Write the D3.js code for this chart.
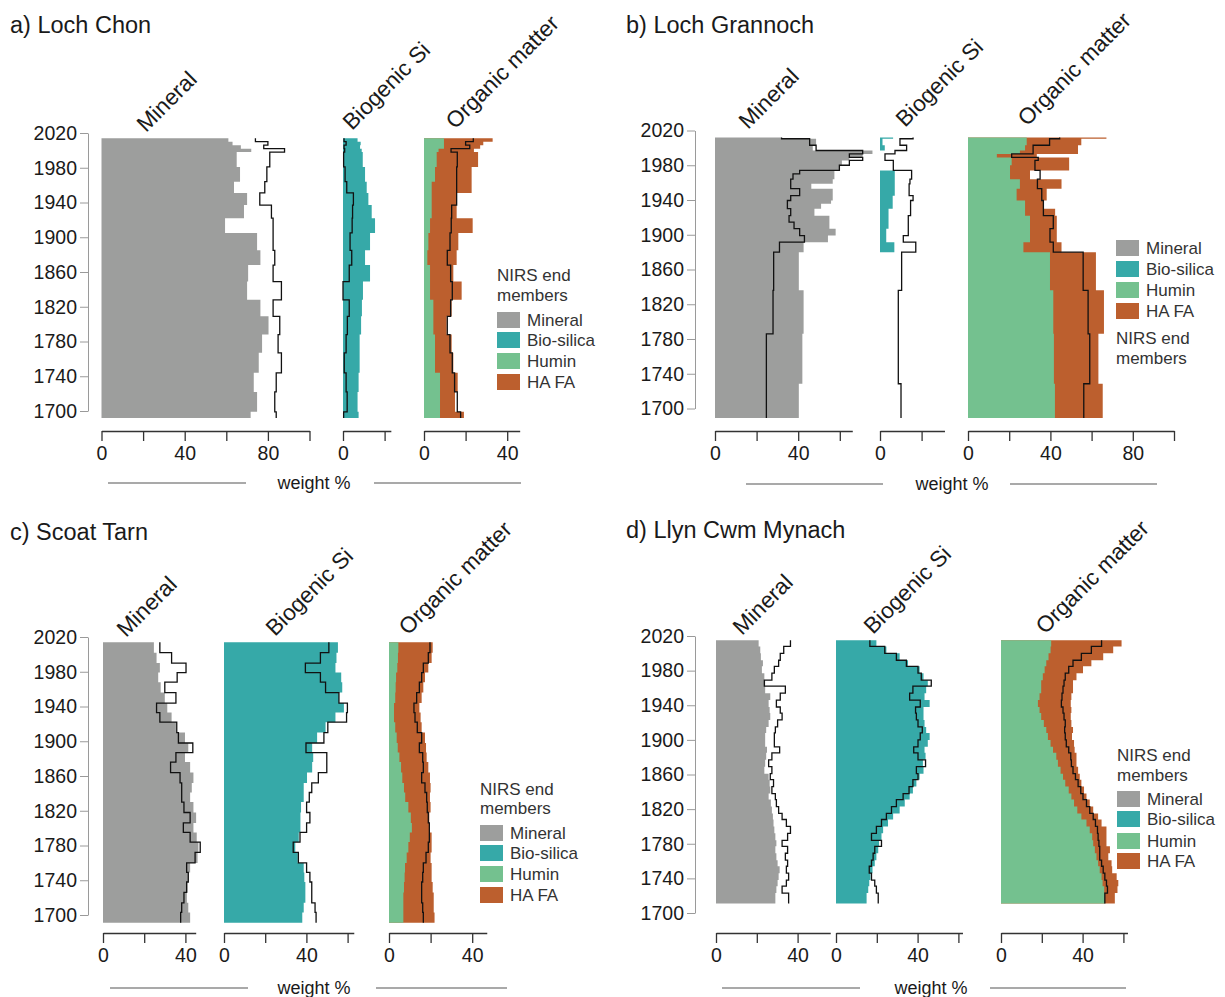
<!DOCTYPE html>
<html>
<head>
<meta charset="utf-8">
<script src="https://cdn.jsdelivr.net/npm/d3@7"></script>
<style>
  body { margin: 0; background: #fff; }
  text { font-family: "Liberation Sans", Arial, Helvetica, sans-serif; }
</style>
</head>
<body>
<svg id="chart" width="1225" height="997"></svg>
<script>
// ---- Loch Chon ----
const chonYears = [2014, 2010, 2006, 2002, 1998, 1981, 1964, 1951, 1937, 1922, 1905, 1885, 1868, 1849, 1828, 1809, 1788, 1767, 1744, 1722, 1699, 1692];
const chonMineral = [61, 63, 67, 72, 65, 66.6, 63.7, 70, 68.5, 59.4, 74.8, 76.4, 70.5, 70, 76.4, 80.3, 77.2, 75.6, 73.2, 74.8, 71.7];
const chonMineralLine = [74, 80, 78, 88, 80.9, 79.5, 78.5, 76.1, 81.7, 82.5, 82.5, 83.3, 82.5, 86.5, 82.5, 85.7, 84.9, 86.5, 84, 83.3, 84];
const chonBioSi = [7, 8.5, 8.2, 9, 9.5, 10.6, 11.4, 12.2, 13.8, 15.4, 13, 10.6, 13, 9.6, 9.1, 8.7, 8, 8, 7.5, 7, 7.5];
const chonBioSiLine = [0.5, 1.5, 0.5, 0.8, 0.3, 1, 1.8, 5, 4.6, 4.4, 3.4, 4.2, 3, 0, 3, 2.1, 1.5, 0.6, 1.5, 2, 0.3];
const chonHumin = [9.6, 9.6, 9.6, 7, 6.1, 5.3, 3.7, 3.7, 3.7, 2.9, 2.1, 1.6, 2.9, 2.9, 4.5, 4.5, 5.3, 5.3, 7.7, 7.7, 7.7];
const chonHaFa = [23.4, 18.9, 17.4, 17, 19.9, 17.6, 19.2, 12, 12, 20.5, 14.4, 14.1, 11.2, 15.2, 8.8, 6.4, 8, 8.8, 8.5, 7.2, 11.5];
const chonOrganicLine = [23.7, 20, 22, 13, 16, 15.7, 15.7, 15.7, 13.3, 13.1, 12.5, 11.2, 12.8, 13.6, 12.8, 11.2, 12.5, 13.6, 14.7, 16, 17.6];

// ---- Loch Grannoch ----
const grannochYears = [2012, 2010.5, 2003, 1997, 1993, 1989, 1985.5, 1980, 1974, 1970, 1964, 1958.6, 1953, 1945, 1939.4, 1935.6, 1930, 1922, 1914.5, 1907, 1899, 1891.5, 1880, 1836, 1786, 1728.5, 1689];
const grannochMineral = [32, 48.6, 47, 75.7, 71, 64.6, 61, 59.8, 57.4, 57.4, 56.6, 46.3, 56.6, 56.6, 55.8, 51, 47.8, 55, 55, 58, 54.3, 42.6, 40.3, 42.6, 42, 40.3];
const grannochMineralLine = [32, 45.5, 48.6, 71, 64.6, 71, 64.6, 59.8, 40.7, 37.5, 36.4, 36.4, 40.7, 36.4, 34.8, 34.8, 36.4, 35.6, 38, 40.7, 43, 31, 28.2, 27.9, 24.7, 24.7];
const grannochBioSi = [6.3, 1.2, 2.3, 0, 0, 0, 0, 0, 7.1, 7.1, 7.1, 7.1, 7.1, 6.1, 6.1, 6.1, 4.1, 4.1, 4.1, 3, 3, 6.9, 0, 0, 0, 0];
const grannochBioSiLine = [15.9, 9.6, 12.8, 7.2, 2.4, 2.4, 6.4, 6.4, 15.2, 15.2, 14.4, 14, 14, 15.9, 14.7, 14.7, 14.7, 13.6, 13.6, 13.6, 11.2, 17.2, 10.4, 8.8, 8.8, 10.1];
const grannochHumin = [28.5, 28.5, 27.7, 25.2, 14, 21.2, 21.2, 20.4, 20.4, 20.4, 25.2, 25.2, 23.6, 23.6, 27.7, 27.7, 27.7, 30.1, 30.1, 30.1, 30.1, 26.9, 39.8, 41.4, 41.7, 42.2];
const grannochHaFa = [38.7, 26.5, 25.7, 28.2, 19.4, 27.9, 27.9, 28.7, 9.7, 9.7, 20.2, 20.2, 14.6, 14.6, 8.9, 8.9, 14.6, 13, 13, 13, 13, 18.5, 22.3, 24.6, 21.6, 23.2];
const grannochOrganicLine = [44.5, 39.6, 31.6, 31.6, 21.2, 34.1, 32.5, 32.5, 35, 35, 33.7, 33.7, 35.8, 35.8, 36.6, 36.6, 36.6, 41.4, 41.4, 39.8, 39.8, 41.4, 55.9, 58.3, 59.1, 56.2];

// ---- Scoat Tarn ----
const scoatYears = [2014, 2002, 1990, 1979, 1968, 1956, 1944, 1933, 1922, 1910, 1898, 1887, 1876, 1864, 1852, 1841, 1830, 1818, 1806, 1795, 1784, 1772, 1760, 1749, 1738, 1726, 1714, 1703, 1691];
const scoatMineral = [24.7, 26, 27.6, 26.8, 28, 30, 31.2, 33.3, 35.4, 39.8, 41.4, 39.8, 42.3, 43.9, 43.1, 42.3, 43.9, 45.2, 43.9, 45.5, 46.3, 45.9, 42.3, 41.4, 41, 40.7, 41.4, 42.3];
const scoatMineralLine = [27.6, 33.3, 40.3, 36, 30, 35.4, 26, 27.6, 35.8, 36.6, 43.6, 35.4, 32.8, 37.4, 38.2, 38.2, 39.3, 42.3, 39, 42.3, 47.2, 44.7, 40.6, 41.4, 40.6, 39.3, 38.2, 37.7];
const scoatBioSi = [55.3, 54.6, 54.1, 56.9, 57.4, 55.8, 58.2, 54.1, 49.3, 45.2, 42.8, 43.3, 42.8, 40.3, 38.7, 38.7, 37.4, 37.1, 37.1, 36.3, 34.6, 35.8, 38.7, 39, 39.5, 39.5, 38.7, 38];
const scoatBioSiLine = [50.9, 46.8, 39.5, 46.8, 49.3, 55.8, 59.9, 59.5, 50.4, 48.5, 39.8, 49.9, 49.9, 45.8, 42.6, 41.4, 40.1, 41.7, 40.1, 36.9, 33.6, 36.1, 40.1, 41.7, 42.6, 42.6, 44.2, 44.7];
const scoatHumin = [4.5, 4.3, 4, 3.4, 3.2, 3, 2.4, 2.4, 3, 3.7, 4.2, 5, 5.8, 6.4, 7.2, 7.8, 9.3, 10.5, 11, 10, 9.3, 8.5, 7.7, 7.5, 7.2, 6.9, 6.9, 6.9];
const scoatHaFa = [16.5, 16.2, 14.9, 13.9, 13.3, 12.7, 12.2, 12.8, 12.7, 13.6, 13.6, 13.1, 13.1, 13.3, 12.8, 11.9, 10.7, 8.9, 8.7, 10.5, 11.2, 11.5, 12.8, 13, 13.8, 14.6, 14.6, 15];
const scoatOrganicLine = [19.7, 18.9, 16.5, 15.7, 14.6, 13.3, 12, 12.5, 13.6, 15.7, 14.6, 16.2, 16.5, 15.7, 17.3, 18.1, 18.4, 18.9, 19.4, 19.4, 18.9, 17.8, 16.5, 16.2, 15.7, 15.7, 16.2, 16.5];

// ---- Llyn Cwm Mynach ----
const mynachYears = [2015, 2008, 2000, 1992, 1985, 1977, 1969, 1962, 1954, 1946, 1938, 1931, 1923, 1915, 1908, 1900, 1892, 1885, 1877, 1869, 1861, 1854, 1846, 1838, 1831, 1823, 1815, 1808, 1800, 1792, 1784, 1777, 1769, 1761, 1754, 1746, 1738, 1731, 1723, 1711];
const mynachMineral = [20.9, 21.7, 22, 23, 22.5, 23.7, 24.1, 24.1, 26.6, 25.8, 26.3, 26.6, 25.8, 24.6, 24.1, 24.1, 25, 24.6, 24.1, 23.7, 25.8, 26.3, 26.6, 25.8, 26.9, 27.4, 27.9, 28.2, 28.6, 29.1, 29.6, 29.1, 29.6, 30.2, 31.2, 30.7, 30.2, 29.6, 29.1];
const mynachMineralLine = [36.5, 33.2, 31.5, 30.7, 28.6, 27.4, 23.7, 34, 31.5, 29.6, 31.5, 32.4, 30.2, 29.1, 28.6, 28.6, 31.2, 27.4, 25.8, 27.4, 26.6, 28.2, 27.4, 29.1, 29.6, 30.7, 32.4, 34.5, 36.5, 35.1, 32.4, 35.1, 34, 35.1, 34.5, 35.6, 34.5, 32.4, 35.6];
const mynachBioSi = [19.8, 24.7, 31.2, 35.3, 41, 42.9, 45, 44.2, 43.4, 45.9, 42.9, 42.9, 43.4, 44.2, 45.9, 45, 43.4, 43.9, 42.6, 42.9, 41, 39.4, 37.7, 36.1, 33.7, 31.2, 28, 25.5, 23.1, 22.3, 21.1, 20.7, 19.8, 19, 17.9, 16.9, 16.3, 15.8, 15];
const mynachBioSiLine = [16.6, 23.9, 29.6, 34.5, 40.2, 41.8, 46.7, 37.7, 36.1, 41.3, 39, 39.4, 40.2, 42.3, 41.3, 40.2, 38.1, 40.2, 43.9, 39.4, 40.2, 37.7, 35.8, 32.9, 29.6, 27.2, 24.7, 22.3, 19.8, 17.4, 22.3, 19, 18.2, 17.4, 16.3, 17.4, 19, 19.8, 20.7];
const mynachHumin = [24.6, 24.3, 23.3, 22.2, 21.4, 20.5, 19.7, 19.7, 18.9, 18.1, 18.9, 19.7, 21, 22.2, 23, 24.3, 25.5, 27.1, 27.9, 29.2, 30.4, 31.5, 33.2, 34.5, 35.8, 37.4, 39.4, 41.9, 43.5, 44.7, 45.2, 46, 46.8, 47.6, 48.4, 49.3, 49.8, 50.6, 50.9];
const mynachHaFa = [34.5, 30.7, 26.8, 22.1, 18.8, 16.5, 15.6, 15.6, 15.6, 16.1, 15.6, 14.5, 13.5, 13.1, 11.8, 11.5, 10.6, 9.9, 9.1, 8.6, 8.2, 7.9, 7.5, 7.4, 7.7, 7.8, 8.2, 7.4, 8.2, 7, 6.5, 7.4, 5.8, 6.6, 6.1, 7.4, 7.7, 6.5, 4.9];
const mynachOrganicLine = [49.3, 44.3, 39.4, 35.3, 33.2, 31.5, 30.9, 30.4, 29.9, 29.6, 30.4, 30.9, 31.5, 31.2, 31.5, 32, 33.2, 34.2, 34.5, 35.3, 36.5, 37.8, 39.1, 40.2, 41.9, 43.5, 45.2, 46.3, 47.3, 47.6, 48, 48.4, 48.4, 49.3, 50.1, 50.9, 51.7, 52.2, 50.9];

// ---- shared labels and ticks ----
const proxyNames = ["Mineral", "Biogenic Si", "Organic matter"];
const endMembers = ["Mineral", "Bio-silica", "Humin", "HA FA"];
const yearTicks = [1700, 1720, 1740, 1760, 1780, 1800, 1820, 1840, 1860, 1880, 1900, 1920, 1940, 1960, 1980, 2000, 2020];
const yearLabels = [1700, 1740, 1780, 1820, 1860, 1900, 1940, 1980, 2020];
const weightTicks = [0, 20, 40, 60, 80, 100];
const weightLabels = [0, 40, 80];
const axisTitle = "weight %";
const legendTitle = ["NIRS end", "members"];

const COLORS = { mineral: "#9d9e9d", bioSi: "#36a9a8", humin: "#74c18f", haFa: "#bc5f2e" };
const memberColors = [COLORS.mineral, COLORS.bioSi, COLORS.humin, COLORS.haFa];

const sites = [
  { title: "a) Loch Chon", years: chonYears, mineral: chonMineral, mineralLine: chonMineralLine,
    bioSi: chonBioSi, bioSiLine: chonBioSiLine, humin: chonHumin, haFa: chonHaFa, organicLine: chonOrganicLine,
    layout: { titleX: 10, titleY: 33, yRange: [411, 133], yAxisX: 88, axisY: 431, weightY: 483, weightX: 314,
      weightLines: [[108, 246], [374, 521]],
      cols: [{ x0: 101.5, k: 2.08, max: 100 }, { x0: 343, k: 2.08, max: 23 }, { x0: 424, k: 2.08, max: 46 }],
      heads: [[146, 133], [352, 131], [455, 130]],
      legend: { x: 497, titleY: [275, 295], rows: [320, 340, 361, 382] } } },
  { title: "b) Loch Grannoch", years: grannochYears, mineral: grannochMineral, mineralLine: grannochMineralLine,
    bioSi: grannochBioSi, bioSiLine: grannochBioSiLine, humin: grannochHumin, haFa: grannochHaFa, organicLine: grannochOrganicLine,
    layout: { titleX: 626, titleY: 33, yRange: [408.5, 130.5], yAxisX: 695, axisY: 431, weightY: 484, weightX: 952,
      weightLines: [[746, 883], [1010, 1157]],
      cols: [{ x0: 715, k: 2.08, max: 66 }, { x0: 880, k: 2.08, max: 31 }, { x0: 968, k: 2.06, max: 100 }],
      heads: [[748, 130], [905, 128], [1027, 127]],
      legend: { x: 1116, titleY: [338, 358], rows: [248, 269, 290, 311] } } },
  { title: "c) Scoat Tarn", years: scoatYears, mineral: scoatMineral, mineralLine: scoatMineralLine,
    bioSi: scoatBioSi, bioSiLine: scoatBioSiLine, humin: scoatHumin, haFa: scoatHaFa, organicLine: scoatOrganicLine,
    layout: { titleX: 10, titleY: 540, yRange: [915, 637], yAxisX: 88, axisY: 933, weightY: 988, weightX: 314,
      weightLines: [[110, 248], [376, 507]],
      cols: [{ x0: 103, k: 2.06, max: 45 }, { x0: 224, k: 2.06, max: 63 }, { x0: 389, k: 2.08, max: 47 }],
      heads: [[126, 638], [275, 637], [408, 636]],
      legend: { x: 480, titleY: [789, 808], rows: [833, 853, 874, 895] } } },
  { title: "d) Llyn Cwm Mynach", years: mynachYears, mineral: mynachMineral, mineralLine: mynachMineralLine,
    bioSi: mynachBioSi, bioSiLine: mynachBioSiLine, humin: mynachHumin, haFa: mynachHaFa, organicLine: mynachOrganicLine,
    layout: { titleX: 626, titleY: 538, yRange: [913, 636], yAxisX: 695, axisY: 933, weightY: 988, weightX: 931,
      weightLines: [[722, 860], [990, 1126]],
      cols: [{ x0: 716, k: 2.04, max: 56 }, { x0: 836, k: 2.04, max: 62 }, { x0: 1001, k: 2.04, max: 62 }],
      heads: [[742, 636], [873, 635], [1045, 635]],
      legend: { x: 1117, titleY: [755, 775], rows: [799, 819, 841, 861] } } }
];

const svg = d3.select("#chart");
const FONT = '"Liberation Sans", Arial, Helvetica, sans-serif';

// Expand slice values into step vertices (top and bottom of each interval)
function stepPoints(years, values) {
  const pts = [];
  values.forEach((v, i) => {
    pts.push({ year: years[i], v });
    pts.push({ year: years[i + 1], v });
  });
  return pts;
}

function drawSite(site) {
  const L = site.layout;
  const g = svg.append("g");
  const y = d3.scaleLinear().domain([1700, 2020]).range(L.yRange);

  // title
  g.append("text").attr("x", L.titleX).attr("y", L.titleY)
    .attr("font-size", 23.5).attr("fill", "#1a1a1a").text(site.title);

  // age axis: minor ticks, then labelled major ticks
  const minor = d3.axisLeft(y).tickValues(yearTicks).tickSize(5).tickSizeOuter(0).tickFormat("");
  const major = d3.axisLeft(y).tickValues(yearLabels).tickSize(8).tickSizeOuter(0).tickPadding(3).tickFormat(d3.format("d"));
  const ya = g.append("g").attr("transform", `translate(${L.yAxisX},0)`);
  ya.call(minor);
  ya.call(major);
  ya.selectAll("path,line").attr("stroke", "#9a9a9a").attr("stroke-width", 1);
  ya.selectAll("text").attr("font-size", 19.5).attr("fill", "#1a1a1a").style("font-family", FONT);

  const xs = L.cols.map(c => d3.scaleLinear().domain([0, c.max]).range([c.x0, c.x0 + c.max * c.k]));

  const area = x => d3.area().x0(x(0)).x1(d => x(d.v)).y(d => y(d.year));
  const line = x => d3.line().x(d => x(d.v)).y(d => y(d.year));

  // Mineral
  g.append("path").datum(stepPoints(site.years, site.mineral))
    .attr("d", area(xs[0])).attr("fill", COLORS.mineral);
  // Biogenic Si
  g.append("path").datum(stepPoints(site.years, site.bioSi))
    .attr("d", area(xs[1])).attr("fill", COLORS.bioSi);
  // Organic matter: HA FA stacked on humin
  const organicTotal = site.humin.map((h, i) => h + site.haFa[i]);
  g.append("path").datum(stepPoints(site.years, organicTotal))
    .attr("d", area(xs[2])).attr("fill", COLORS.haFa);
  g.append("path").datum(stepPoints(site.years, site.humin))
    .attr("d", area(xs[2])).attr("fill", COLORS.humin);

  // measured profiles
  [[site.mineralLine, 0], [site.bioSiLine, 1], [site.organicLine, 2]].forEach(([vals, c]) => {
    g.append("path").datum(stepPoints(site.years, vals))
      .attr("d", line(xs[c])).attr("fill", "none")
      .attr("stroke", "#111").attr("stroke-width", 1.3).attr("stroke-linejoin", "miter");
  });

  // weight axes
  xs.forEach((x, c) => {
    const max = L.cols[c].max;
    const ax = d3.axisBottom(x).tickValues(weightTicks.filter(t => t <= max))
      .tickSize(10).tickSizeOuter(0).tickPadding(5)
      .tickFormat(d => weightLabels.includes(d) ? d : "");
    const ag = g.append("g").attr("transform", `translate(0,${L.axisY})`).call(ax);
    ag.selectAll("path,line").attr("stroke", "#333").attr("stroke-width", 1.3);
    ag.selectAll("text").attr("font-size", 19.5).attr("fill", "#1a1a1a").style("font-family", FONT);
  });

  // proxy headings
  proxyNames.forEach((name, c) => {
    const [hx, hy] = L.heads[c];
    g.append("text").attr("transform", `translate(${hx},${hy}) rotate(-45)`)
      .attr("font-size", 22.5).attr("fill", "#1a1a1a").text(name);
  });

  // shared x title with rules either side
  g.append("text").attr("x", L.weightX).attr("y", L.weightY + 6).attr("text-anchor", "middle")
    .attr("font-size", 18).attr("fill", "#1a1a1a").text(axisTitle);
  L.weightLines.forEach(([a, b]) => {
    g.append("line").attr("x1", a).attr("x2", b).attr("y1", L.weightY).attr("y2", L.weightY)
      .attr("stroke", "#555").attr("stroke-width", 1.2);
  });

  // legend
  const lg = L.legend;
  legendTitle.forEach((t, i) => {
    g.append("text").attr("x", lg.x).attr("y", lg.titleY[i] + 6)
      .attr("font-size", 17).attr("fill", "#333").text(t);
  });
  endMembers.forEach((m, i) => {
    g.append("rect").attr("x", lg.x).attr("y", lg.rows[i] - 8).attr("width", 23).attr("height", 16)
      .attr("fill", memberColors[i]);
    g.append("text").attr("x", lg.x + 30).attr("y", lg.rows[i] + 6)
      .attr("font-size", 17).attr("fill", "#333").text(m);
  });
}

sites.forEach(drawSite);
</script>
</body>
</html>
